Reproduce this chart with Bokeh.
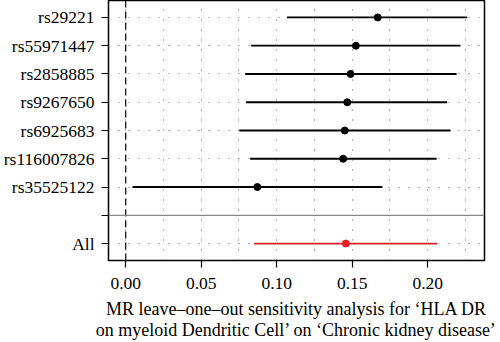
from bokeh.plotting import figure
from bokeh.models import FixedTicker, Span, ColumnDataSource, CustomJSTickFormatter
from bokeh.embed import file_html
from bokeh.resources import INLINE

snps = ["rs29221", "rs55971447", "rs2858885", "rs9267650", "rs6925683", "rs116007826", "rs35525122"]
b = [0.1669, 0.1524, 0.1489, 0.1467, 0.1451, 0.1440, 0.0872]
lo = [0.1068, 0.0830, 0.0791, 0.0797, 0.0753, 0.0824, 0.0045]
hi = [0.2261, 0.2217, 0.2191, 0.2129, 0.2151, 0.2059, 0.1700]
all_label = "All"
all_b = 0.1458
all_lo = 0.0850
all_hi = 0.2063
x_ticks = [0.0, 0.05, 0.10, 0.15, 0.20]
grid_x = [0.0, 0.025, 0.05, 0.075, 0.10, 0.125, 0.15, 0.175, 0.20, 0.225]
title_text = "MR leave\u2013one\u2013out sensitivity analysis for \u2018HLA DR\non myeloid Dendritic Cell\u2019 on \u2018Chronic kidney disease\u2019"

n = len(snps)
ys = [n + 2 - i for i in range(n)]  # top row highest; All at 1, separator at 2

FONT = "Liberation Serif"

p = figure(width=500, height=342, output_backend="svg", toolbar_location=None,
           x_range=(-0.0114, 0.2376), y_range=(0.4, 9.6))
p.min_border_left = 107
p.min_border_right = 16
p.min_border_top = 0
p.min_border_bottom = 82
p.outline_line_color = "black"
p.outline_line_width = 1.5
p.background_fill_color = "white"
p.border_fill_color = "white"

# grid
p.xgrid.ticker = FixedTicker(ticks=grid_x)
p.ygrid.ticker = FixedTicker(ticks=[1] + ys)
for g in (p.xgrid, p.ygrid):
    g.grid_line_color = "#666666"
    g.grid_line_dash = "1 9"
    g.grid_line_width = 1

# axes
p.xaxis.ticker = FixedTicker(ticks=x_ticks)
p.xaxis.formatter = CustomJSTickFormatter(code="return tick.toFixed(2);")
p.yaxis.ticker = FixedTicker(ticks=[1, 2] + ys)
overrides = {yy: s for yy, s in zip(ys, snps)}
overrides[1] = all_label
overrides[2] = ""
p.yaxis.major_label_overrides = overrides
for ax in (p.xaxis, p.yaxis):
    ax.axis_line_color = None
    ax.major_tick_line_color = "black"
    ax.major_tick_line_width = 1.2
    ax.major_tick_in = 0
    ax.major_tick_out = 7
    ax.minor_tick_line_color = None
    ax.major_label_text_font = FONT
    ax.major_label_text_font_size = "17.5px"
    ax.major_label_text_color = "black"
p.xaxis.major_label_standoff = 10
p.yaxis.major_label_standoff = 7

p.xaxis.axis_label = title_text
p.xaxis.axis_label_text_font = FONT
p.xaxis.axis_label_text_font_size = "18px"
p.xaxis.axis_label_text_font_style = "normal"
p.xaxis.axis_label_text_color = "black"
p.xaxis.axis_label_text_line_height = 1.05
p.xaxis.axis_label_standoff = 7

# reference lines
p.add_layout(Span(location=0, dimension="height", line_color="black", line_dash="7 4", line_width=1.2))
p.add_layout(Span(location=2, dimension="width", line_color="#888888", line_width=1.2))

src = ColumnDataSource(dict(y=ys, b=b, lo=lo, hi=hi))
p.segment(x0="lo", x1="hi", y0="y", y1="y", source=src, line_color="black", line_width=1.8)
p.scatter(x="b", y="y", source=src, size=7, color="black")

src_all = ColumnDataSource(dict(y=[1], b=[all_b], lo=[all_lo], hi=[all_hi]))
p.segment(x0="lo", x1="hi", y0="y", y1="y", source=src_all, line_color="#d9232a", line_width=1.8)
p.scatter(x="b", y="y", source=src_all, size=7, color="#ee1c25")

open("out.html", "w").write(file_html(p, INLINE))
